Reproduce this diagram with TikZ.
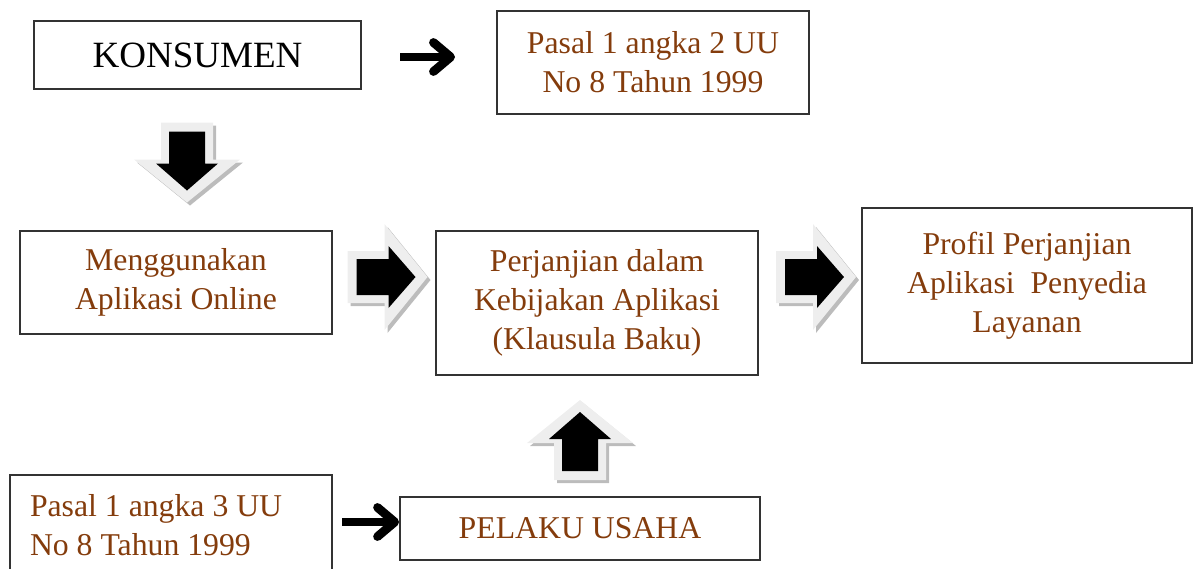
\documentclass[tikz,border=0pt]{standalone}
\usepackage{fontspec}
\setmainfont{Liberation Serif}
\usetikzlibrary{arrows.meta, positioning}

\definecolor{txtbrown}{RGB}{132,60,12}
\definecolor{arrowlight}{RGB}{238,238,238}
\definecolor{arrowshade}{RGB}{188,188,188}
\newcommand{\pxu}{0.378pt}

\tikzset{
  box/.style={draw=black!80, line width=0.7pt, inner sep=0pt, align=center,
    text=txtbrown, font=\fontsize{12}{14.7}\selectfont},
  smallarrow/.style={line width=3.3pt, -{Straight Barb[round, length=6.5pt, width=11pt]}}
}

% block arrow: centre x, centre y, direction
\newcommand{\blockarrow}[3]{%
  \begin{scope}[shift={(#1+3,#2+3)}, rotate=#3]
    \fill[arrowshade] (-40,-26) -- (-3,-26) -- (-3,-53) -- (40,0) -- (-3,53) -- (-3,26) -- (-40,26) -- cycle;
  \end{scope}
  \begin{scope}[shift={(#1,#2)}, rotate=#3]
    \fill[arrowlight] (-40,-26) -- (-3,-26) -- (-3,-53) -- (40,0) -- (-3,53) -- (-3,26) -- (-40,26) -- cycle;
    \fill[black] (-31,-18) -- (1,-18) -- (1,-31) -- (28,0) -- (1,31) -- (1,18) -- (-31,18) -- cycle;
  \end{scope}}

\begin{document}
\begin{tikzpicture}[x=0.378pt, y=-0.378pt]
\useasboundingbox (0,0) rectangle (1193,568);

\node[box, text=black, font=\fontsize{14}{16}\selectfont,
  minimum width=327*\pxu, minimum height=68*\pxu] (konsumen) at (197.5,55) {KONSUMEN};
\node[box, minimum width=312*\pxu, minimum height=103*\pxu] (uu2) at (653,62.5)
  {Pasal 1 angka 2 UU\\No 8 Tahun 1999};
\node[box, minimum width=312*\pxu, minimum height=103*\pxu] (aplikasi) at (176,282.5)
  {Menggunakan\\Aplikasi Online};
\node[box, minimum width=322*\pxu, minimum height=144*\pxu] (perjanjian) at (597,303)
  {Perjanjian dalam\\Kebijakan Aplikasi\\(Klausula Baku)};
\node[box, minimum width=330*\pxu, minimum height=155*\pxu] (profil) at (1027,285.5)
  {Profil Perjanjian\\Aplikasi\ \ Penyedia\\Layanan};
\node[box, align=flush left, inner xsep=20*\pxu, text width=282*\pxu,
  minimum height=100*\pxu] (uu3) at (171,525) {Pasal 1 angka 3 UU\\No 8 Tahun 1999};
\node[box, minimum width=360*\pxu, minimum height=63*\pxu] (pelaku) at (580,528.5) {PELAKU USAHA};

\coordinate (k1) at (400,57);
\coordinate (k2) at (455,57);
\draw[smallarrow] (k1) -- (k2);
\coordinate (p1) at (342,522);
\draw[smallarrow] (p1) -- (p1 -| pelaku.west);

\blockarrow{187}{162.5}{-90}
\blockarrow{387.5}{277}{0}
\blockarrow{816}{277}{0}
\blockarrow{580}{440}{90}
\end{tikzpicture}
\end{document}
